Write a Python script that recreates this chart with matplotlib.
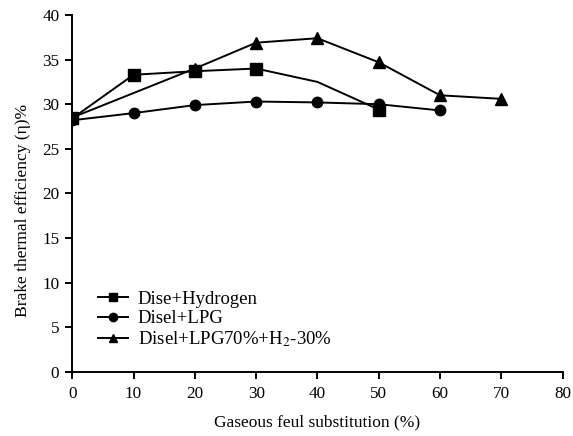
import matplotlib
matplotlib.use("Agg")
import matplotlib.pyplot as plt

plt.rcParams['font.family'] = ['Liberation Serif', 'DejaVu Serif']
plt.rcParams['mathtext.fontset'] = 'stix'

# Data
x_h2 = [0, 10, 20, 30, 40, 50]
y_h2 = [28.4, 33.3, 33.7, 34.0, 32.5, 29.4]
mark_h2 = [0, 1, 2, 3, 5]

x_lpg = [0, 10, 20, 30, 40, 50, 60]
y_lpg = [28.2, 29.0, 29.9, 30.3, 30.2, 30.0, 29.3]

x_mix = [0, 20, 30, 40, 50, 60, 70]
y_mix = [28.5, 34.0, 36.9, 37.4, 34.7, 31.0, 30.6]

labels = ["Dise+Hydrogen", "Disel+LPG", "Disel+LPG70%+H$_2$-30%"]
xticks = [0, 10, 20, 30, 40, 50, 60, 70, 80]
yticks = [0, 5, 10, 15, 20, 25, 30, 35, 40]

fig = plt.figure(figsize=(5.73, 4.36), dpi=100)
ax = fig.add_axes([0.126, 0.1475, 0.856, 0.818])

lw = 1.4
ax.plot(x_h2, y_h2, color='black', lw=lw, marker='s', markersize=8,
        markevery=mark_h2, label=labels[0])
ax.plot(x_lpg, y_lpg, color='black', lw=lw, marker='o', markersize=7.5,
        label=labels[1])
ax.plot(x_mix, y_mix, color='black', lw=lw, marker='^', markersize=8,
        label=labels[2])

ax.set_xlim(0, 80)
ax.set_ylim(0, 40)
ax.set_xticks(xticks)
ax.set_yticks(yticks)
for s in ['top', 'right']:
    ax.spines[s].set_visible(False)
for s in ['left', 'bottom']:
    ax.spines[s].set_linewidth(1.4)
ax.tick_params(direction='out', length=4.8, width=1.4, labelsize=12.3)
ax.tick_params(axis='x', pad=5.5)
ax.tick_params(axis='y', pad=4.5)

ax.set_xlabel("Gaseous feul substitution (%)", fontsize=12.5, labelpad=9)
ax.set_ylabel("Brake thermal efficiency (η)%", fontsize=12.6)
ax.yaxis.set_label_coords(-0.084, 0.453)

ax.legend(loc='lower left', bbox_to_anchor=(0.053, 0.063), frameon=False,
          fontsize=13.5, handlelength=1.6, handletextpad=0.5,
          labelspacing=0.12, borderpad=0, borderaxespad=0, markerscale=0.8)

fig.savefig("out.png", dpi=100)
